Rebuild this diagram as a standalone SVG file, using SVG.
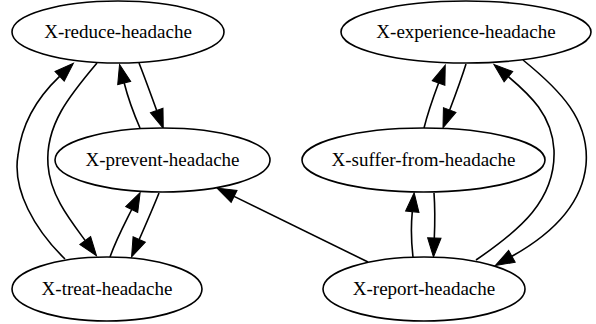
<svg xmlns="http://www.w3.org/2000/svg" width="596" height="324" viewBox="0 0 596 324">
<style>
.node ellipse{fill:#fff;stroke:#000;stroke-width:1.6}
.node text{font-size:19px;fill:#000;text-anchor:middle}
.edges path{fill:none;stroke:#000;stroke-width:1.6;marker-end:url(#ah)}
</style>
<defs>
<marker id="ah" markerUnits="userSpaceOnUse" markerWidth="20" markerHeight="14" refX="0" refY="7" orient="auto" overflow="visible">
<path d="M0,0.3 L19,7 L0,13.7 z" fill="#000" stroke="#000" stroke-width="1"/>
</marker>
</defs>
<rect width="596" height="324" fill="#fff"/>
<g class="edges">
<path d="M65,259 C35,230 12,190 18,155 C22,120 40,95 59.6,76.4"/>
<path d="M97,63 C70,95 45,125 48,165 C50,195 70,220 85.2,240.5"/>
<path d="M140,128 C133,112 128,98 124.2,83"/>
<path d="M139,63 C145,78 151,95 156.7,110.5"/>
<path d="M110,257 C116,240 124,225 131.7,209.5"/>
<path d="M159,193 C153,208 146,224 139.2,239.5"/>
<path d="M368,262 L234.1,196.4"/>
<path d="M424,128 C428,112 433,98 438.6,83"/>
<path d="M466,64 C461,80 455,96 449.7,110"/>
<path d="M413,257 C411,240 411,225 412.3,211.7"/>
<path d="M434,193 C435,207 435,222 434.3,238"/>
<path d="M476,260 C520,230 556,200 554,150 C552,115 530,95 508.4,76.7"/>
<path d="M523,60 C560,90 590,120 586,165 C582,205 550,235 511.9,256.3"/>
</g>
<g font-family="'Liberation Serif', 'DejaVu Serif', 'Times New Roman', serif">
<g id="reduce" class="node"><ellipse cx="118" cy="32" rx="106" ry="31"/><text x="118" y="38">X-reduce-headache</text></g>
<g id="experience" class="node"><ellipse cx="466" cy="32" rx="125" ry="31"/><text x="466" y="38">X-experience-headache</text></g>
<g id="prevent" class="node"><ellipse cx="162.5" cy="160" rx="107.5" ry="32"/><text x="162.5" y="166">X-prevent-headache</text></g>
<g id="suffer" class="node"><ellipse cx="423.5" cy="160" rx="121.5" ry="32"/><text x="423.5" y="166">X-suffer-from-headache</text></g>
<g id="treat" class="node"><ellipse cx="107" cy="289" rx="95" ry="32"/><text x="107" y="295">X-treat-headache</text></g>
<g id="report" class="node"><ellipse cx="424" cy="289" rx="101" ry="32"/><text x="424" y="295">X-report-headache</text></g>
</g>
</svg>
